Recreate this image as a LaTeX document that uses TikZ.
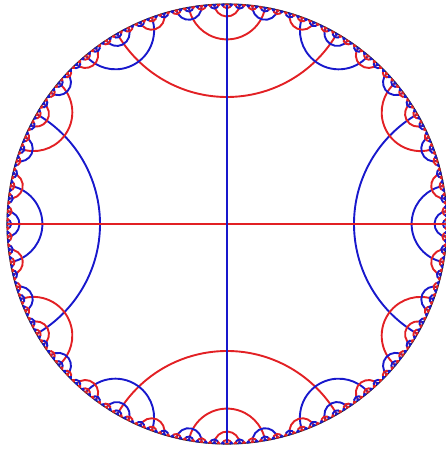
\documentclass[tikz,border=0pt]{standalone}
\definecolor{geored}{RGB}{226,32,36}
\definecolor{geoblue}{RGB}{24,24,204}

% arc of the disk centred on boundary angle #1, half width #2 (deg),
% drawn with style #3; its end points get arcs of style #4
\newcommand\hypArc[4]{%
  \begingroup
  \pgfmathsetmacro\aS{#1-#2}%
  \pgfmathsetmacro\sA{#1+270-#2}%
  \pgfmathsetmacro\eA{#1+90+#2}%
  \pgfmathsetmacro\rr{220*tan(#2)}%
  \draw[#3] (\aS:220pt) arc[start angle=\sA, end angle=\eA, radius=\rr pt];
  \pgfmathsetmacro\hc{#2/3}%
  \pgfmathsetmacro\eL{#1-#2}%
  \pgfmathsetmacro\eR{#1+#2}%
  \edef\tmp{\noexpand\childArcs{\eL}{\hc}{#4}{#3}\noexpand\childArcs{\eR}{\hc}{#4}{#3}}\tmp
  \endgroup}
% nested arcs round one end point, each a third of the one before
\newcommand\childArcs[4]{%
  \ifdim #2pt<0.3pt\else
    \hypArc{#1}{#2}{#3}{#4}%
    \pgfmathsetmacro\nexth{#2/3}%
    \edef\tmp{\noexpand\childArcs{#1}{\nexth}{#3}{#4}}\tmp
  \fi}

\begin{document}
\begin{tikzpicture}[
  redgeo/.style={draw=geored, line width=1.9pt},
  bluegeo/.style={draw=geoblue, line width=1.9pt},
  rim/.style={draw=black!85, line width=1.1pt}
]
\useasboundingbox (0,0) rectangle (445pt,450pt);
\begin{scope}[shift={(227pt,226pt)}]
\draw[rim] (0,0) circle[radius=220pt];

% arcs round the end points of the diameters
\childArcs{90}{30}{redgeo}{bluegeo}
\childArcs{270}{30}{redgeo}{bluegeo}
\childArcs{0}{30}{bluegeo}{redgeo}
\childArcs{180}{30}{bluegeo}{redgeo}

% the two diameters
\draw[redgeo]  (180:220pt) -- (0:220pt);
\draw[bluegeo] (0,219pt) -- (0.01pt,-219pt);
\end{scope}
\end{tikzpicture}
\end{document}
